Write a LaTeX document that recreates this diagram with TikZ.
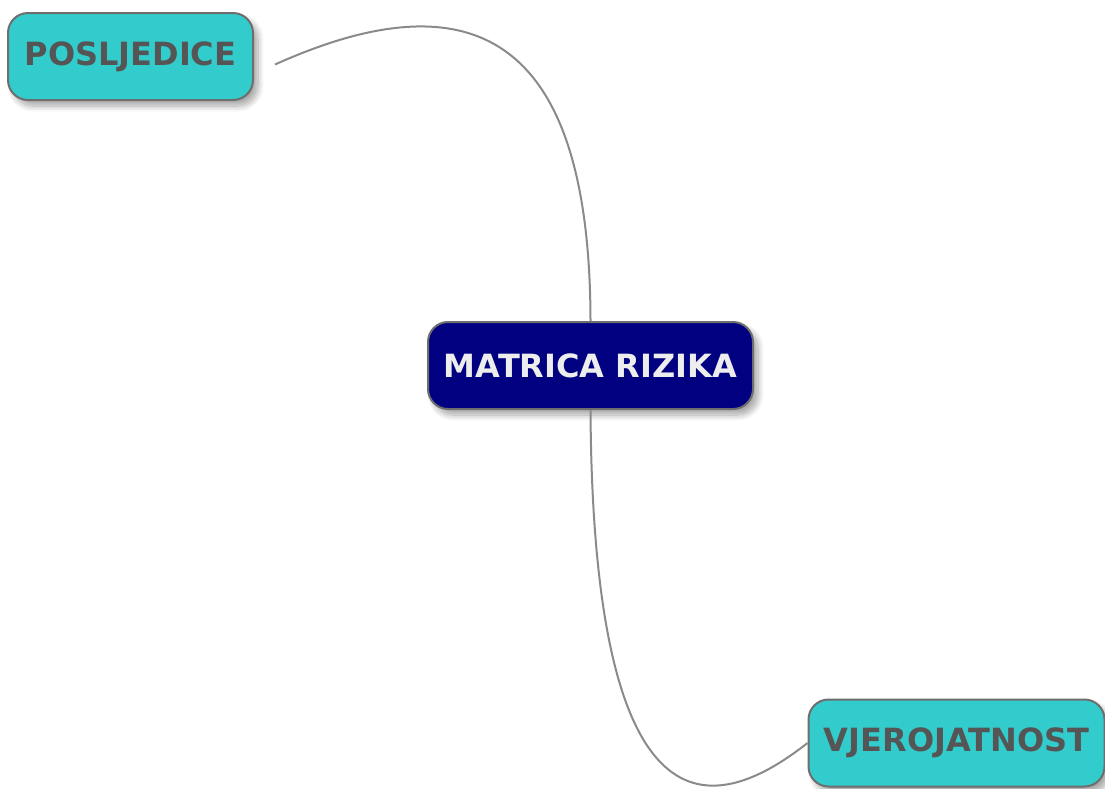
\documentclass[tikz,border=0pt]{standalone}
\usepackage{fontspec}
\setmainfont{DejaVu Sans}
\usetikzlibrary{shadows.blur}
\definecolor{topicfill}{HTML}{33CCCC}
\definecolor{rootfill}{HTML}{000080}
\definecolor{edgegray}{HTML}{6E6E6E}
\definecolor{labelgray}{HTML}{555555}
\definecolor{linkgray}{HTML}{8A8A8A}
\begin{document}
\begin{tikzpicture}[x=1pt,y=-1pt,
  box/.style={draw=edgegray, line width=2pt, rounded corners=20pt,
    minimum height=87pt, inner sep=0pt,
    font=\fontsize{32}{38}\selectfont\bfseries,
    blur shadow={shadow xshift=5pt, shadow yshift=-6pt, shadow blur steps=10, shadow blur radius=6pt, shadow opacity=35}},
  topic/.style={box, fill=topicfill, text=labelgray},
  root/.style={box, fill=rootfill, text=white!93!black},
  link/.style={draw=linkgray, line width=2pt}]
  \useasboundingbox (0,0) rectangle (1105,788);

  \node[root, minimum width=325pt] (root) at (590.5,365.5) {MATRICA RIZIKA};
  \node[topic, minimum width=245pt] (pos) at (130.5,56.5) {POSLJEDICE};
  \node[topic, minimum width=296pt] (vje) at (956.5,743) {VJEROJATNOST};

  % the upper branch stops short of its box
  \coordinate (pend) at (275,64.5);
  \draw[link] (root.north) .. controls (590,50) and (485,-30) .. (pend);
  \draw[link] (root.south) .. controls (593,840) and (712,818) .. (vje.west);
\end{tikzpicture}
\end{document}
